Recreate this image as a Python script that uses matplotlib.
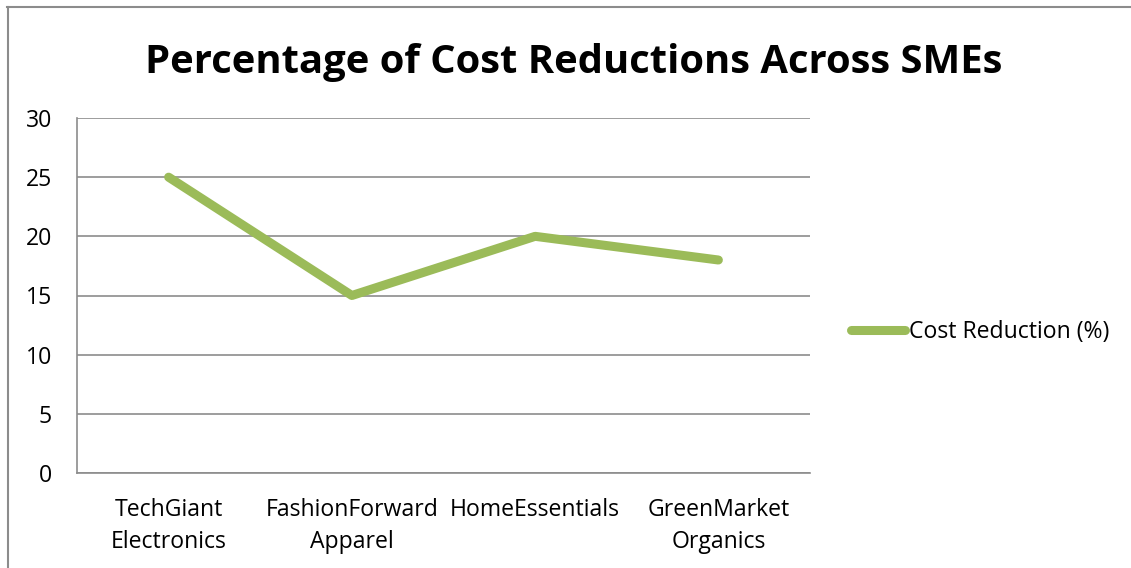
import matplotlib
matplotlib.use("Agg")
import matplotlib.pyplot as plt
from matplotlib.lines import Line2D

plt.rcParams['font.family'] = ['Open Sans', 'DejaVu Sans']

categories = ["TechGiant\nElectronics", "FashionForward\nApparel", "HomeEssentials", "GreenMarket\nOrganics"]
cost_reduction = [25, 15, 20, 18]
y_ticks = [0, 5, 10, 15, 20, 25, 30]
series_name = "Cost Reduction (%)"
title = "Percentage of Cost Reductions Across SMEs"

W, H, DPI = 1131, 568, 100
fig = plt.figure(figsize=(W / DPI, H / DPI), dpi=DPI)
fig.patch.set_facecolor("white")

# chart frame (top and left edges visible)
frame_col = "#8c8c8c"
fig.add_artist(Line2D([7 / W, 1.0], [1 - 6.5 / H, 1 - 6.5 / H], color=frame_col, lw=1.5, transform=fig.transFigure))
fig.add_artist(Line2D([7.5 / W, 7.5 / W], [0, 1 - 6.5 / H], color=frame_col, lw=1.5, transform=fig.transFigure))

left, right, top, bottom = 77, 810, 118, 473
ax = fig.add_axes([left / W, 1 - bottom / H, (right - left) / W, (bottom - top) / H])

green = "#9BBB59"
x = list(range(len(categories)))
ax.plot(x, cost_reduction, color=green, lw=6.5, solid_capstyle="round", solid_joinstyle="round", zorder=3)

fs = 16.6
ax.set_xlim(-0.5, len(categories) - 0.5)
ax.set_ylim(0, 30)
ax.set_yticks(y_ticks)
ax.set_xticks(x)
ax.set_xticklabels(categories, fontsize=fs, linespacing=1.45)
ax.tick_params(axis="both", length=0, labelsize=fs, colors="black")
ax.tick_params(axis="y", pad=18)
ax.tick_params(axis="x", pad=18)
ax.grid(axis="y", color="#8c8c8c", lw=1.2)
ax.set_axisbelow(True)
for s in ["top", "right"]:
    ax.spines[s].set_visible(False)
for s in ["left", "bottom"]:
    ax.spines[s].set_color("#8c8c8c")
    ax.spines[s].set_linewidth(1.2)

fig.text(574 / W, 1 - 62 / H, title, ha="center", va="center", fontsize=28.8, fontweight="bold")

# legend
leg_y = 1 - 330 / H
fig.add_artist(Line2D([851 / W, 905 / W], [leg_y, leg_y], color=green, lw=6.5,
                      solid_capstyle="round", transform=fig.transFigure))
fig.text(909 / W, leg_y - 2 / H, series_name, ha="left", va="center", fontsize=fs)

fig.savefig("out.png", dpi=DPI)
